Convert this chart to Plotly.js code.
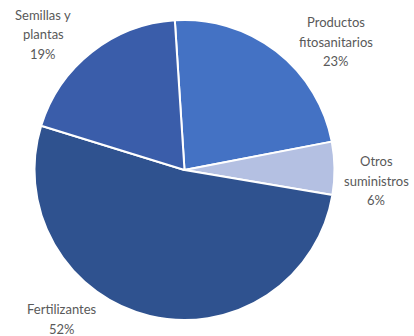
<!DOCTYPE html>
<html>
<head>
<meta charset="utf-8">
<script src="https://cdn.plot.ly/plotly-3.0.1.min.js"></script>
<style>html,body{margin:0;padding:0;background:#fff;}#chart{width:414px;height:336px;}</style>
</head>
<body>
<div id="chart"></div>
<script>
// Data
const categories = ["Productos fitosanitarios", "Otros suministros", "Fertilizantes", "Semillas y plantas"];
const labelLines = [["Productos", "fitosanitarios"], ["Otros", "suministros"], ["Fertilizantes"], ["Semillas y", "plantas"]];
const values = [23.0, 5.7, 52.1, 19.2];
const colors = ["#4472C4", "#B4C0E2", "#2F528F", "#3A5DAA"];

// Label anchor positions (pixels, center of first line) and line spacing
const W = 414, H = 336;
const labelPos = [[336, 22], [376, 161], [62, 309], [43, 15]];
const lineGap = 19.5;

const total = values.reduce((a, b) => a + b, 0);
const annotations = [];
categories.forEach((c, i) => {
  const lines = labelLines[i].concat([Math.round(values[i] / total * 100) + "%"]);
  lines.forEach((t, j) => {
    annotations.push({
      text: t,
      x: labelPos[i][0] / W,
      y: 1 - (labelPos[i][1] + j * lineGap) / H,
      xref: "paper", yref: "paper",
      xanchor: "center", yanchor: "middle",
      showarrow: false,
      font: {family: "Lato, 'Liberation Sans', sans-serif", size: 13, color: "#595959"}
    });
  });
});

const cx = 184.5, cy = 170, r = 150;
const data = [{
  type: "pie",
  labels: categories,
  values: values,
  sort: false,
  direction: "clockwise",
  rotation: -3.7,
  marker: {colors: colors, line: {color: "#ffffff", width: 2}},
  textinfo: "none",
  hoverinfo: "label+percent",
  showlegend: false,
  domain: {x: [(cx - r) / W, (cx + r) / W], y: [1 - (cy + r) / H, 1 - (cy - r) / H]}
}];

const layout = {
  width: W, height: H,
  margin: {l: 0, r: 0, t: 0, b: 0},
  paper_bgcolor: "#ffffff",
  showlegend: false,
  annotations: annotations
};

Plotly.newPlot("chart", data, layout, {displayModeBar: false, staticPlot: true});
</script>
</body>
</html>
